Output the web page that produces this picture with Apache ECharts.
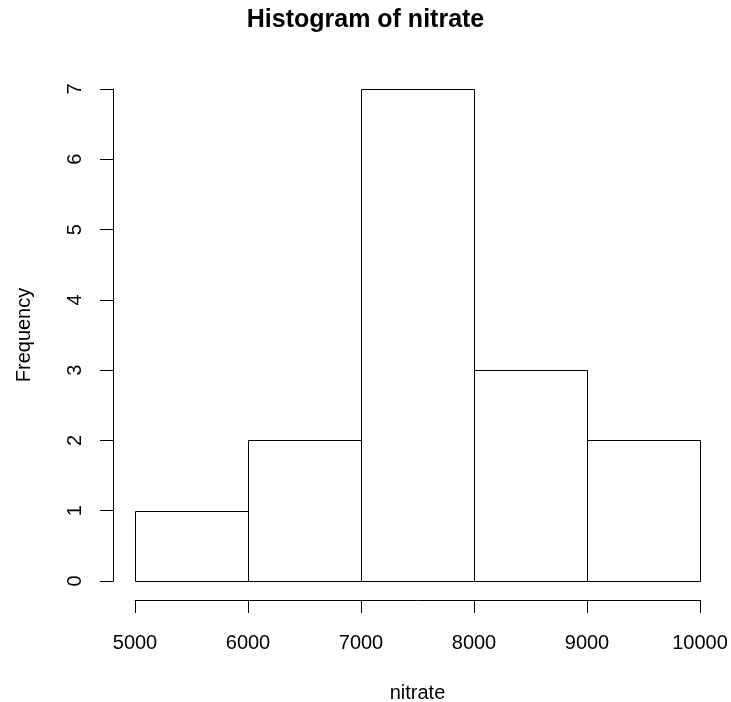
<!DOCTYPE html>
<html>
<head>
<meta charset="utf-8">
<script src="https://cdn.jsdelivr.net/npm/echarts@6/dist/echarts.min.js"></script>
<style>
  html, body { margin: 0; padding: 0; background: #ffffff; }
  #chart { width: 731px; height: 702px; }
</style>
</head>
<body>
<div id="chart"></div>
<script>
// ---- data ----
const binStarts = [5000, 6000, 7000, 8000, 9000];
const binEnds = [6000, 7000, 8000, 9000, 10000];
const counts = [1, 2, 7, 3, 2];
const xTicks = [5000, 6000, 7000, 8000, 9000, 10000];
const yTicks = [0, 1, 2, 3, 4, 5, 6, 7];
const titleText = 'Histogram of nitrate';
const xName = 'nitrate';
const yName = 'Frequency';

const FONT = '"Liberation Sans", Arial, Helvetica, sans-serif';

const barData = binStarts.map((s, i) => [s, binEnds[i], counts[i]]);

const chart = echarts.init(document.getElementById('chart'), null, { renderer: 'canvas' });

chart.setOption({
  animation: false,
  backgroundColor: '#ffffff',
  title: {
    text: titleText,
    left: 'center',
    top: 3,
    textStyle: { fontFamily: FONT, fontSize: 25, fontWeight: 'bold', color: '#000', lineHeight: 25 }
  },
  grid: { left: 135, right: 31, top: 89, bottom: 121, containLabel: false, outerBoundsMode: 'none' },
  xAxis: {
    type: 'value',
    min: xTicks[0],
    max: xTicks[xTicks.length - 1],
    interval: 1000,
    offset: 19,
    name: xName,
    nameLocation: 'middle',
    nameGap: 83,
    nameTextStyle: { fontFamily: FONT, fontSize: 20, color: '#000' },
    axisLine: { show: true, onZero: false, lineStyle: { color: '#000', width: 1 } },
    axisTick: { show: true, length: 13, lineStyle: { color: '#000', width: 1 } },
    axisLabel: { fontFamily: FONT, fontSize: 20, color: '#000', margin: 33, formatter: function (v) { return String(v); } },
    splitLine: { show: false }
  },
  yAxis: {
    type: 'value',
    min: yTicks[0],
    max: yTicks[yTicks.length - 1],
    interval: 1,
    offset: 22,
    name: yName,
    nameLocation: 'middle',
    nameRotate: 90,
    nameGap: 79,
    nameTextStyle: { fontFamily: FONT, fontSize: 20, color: '#000' },
    axisLine: { show: true, onZero: false, lineStyle: { color: '#000', width: 1 } },
    axisTick: { show: true, length: 13, lineStyle: { color: '#000', width: 1 } },
    axisLabel: { fontFamily: FONT, fontSize: 20, color: '#000', margin: 28, rotate: 90, formatter: function (v) { return String(v); } },
    splitLine: { show: false }
  },
  series: [{
    type: 'custom',
    data: barData,
    clip: false,
    renderItem: function (params, api) {
      const p0 = api.coord([api.value(0), api.value(2)]);
      const p1 = api.coord([api.value(1), 0]);
      const x0 = Math.round(p0[0]) + 0.5;
      const x1 = Math.round(p1[0]) + 0.5;
      const y0 = Math.round(p0[1]) + 0.5;
      const y1 = Math.round(p1[1]) + 0.5;
      return {
        type: 'rect',
        shape: { x: x0, y: y0, width: x1 - x0, height: y1 - y0 },
        style: { fill: 'rgba(0,0,0,0)', stroke: '#000', lineWidth: 1 }
      };
    }
  }]
});
</script>
</body>
</html>
